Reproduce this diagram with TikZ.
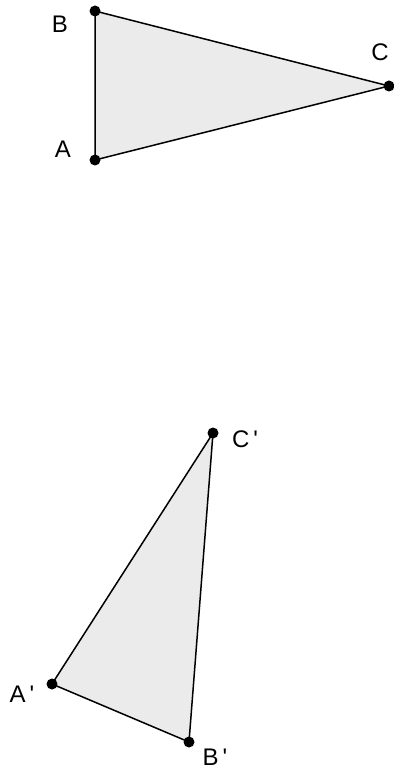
\documentclass[tikz,border=0pt]{standalone}
\usepackage{fontspec}
\setmainfont{Liberation Sans}
\definecolor{lightfill}{RGB}{235,235,235}
\tikzset{
  pt/.style={circle,fill=black,inner sep=0pt,minimum size=11pt},
  lbl/.style={font=\fontsize{24}{24}\selectfont}
}
\newcommand{\prm}{\,\textquotesingle}
\begin{document}
\begin{tikzpicture}[x=1pt,y=-1pt]
\useasboundingbox (0,0) rectangle (393,775);

% first triangle
\coordinate (A) at (95,160);
\coordinate (B) at (95,11);
\coordinate (C) at (389,86);
\filldraw[fill=lightfill,line width=1.5pt] (A) -- (B) -- (C) -- cycle;

% image triangle
\coordinate (A') at (52,684);
\coordinate (B') at (189,742);
\coordinate (C') at (213,433);
\filldraw[fill=lightfill,line width=1.5pt] (A') -- (B') -- (C') -- cycle;

\node[pt] (pA) at (A) {};
\node[pt] (pB) at (B) {};
\node[pt] (pC) at (C) {};
\node[pt] (pA') at (A') {};
\node[pt] (pB') at (B') {};
\node[pt] (pC') at (C') {};

\node[lbl] (lA) at (63,149) {A};
\node[lbl] (lB) at (60,24) {B};
\node[lbl] (lC) at (380,52) {C};
\node[lbl] (lA') at (22,694) {A\prm};
\node[lbl] (lB') at (215,757) {B\prm};
\node[lbl] (lC') at (245,439) {C\prm};
\end{tikzpicture}
\end{document}
